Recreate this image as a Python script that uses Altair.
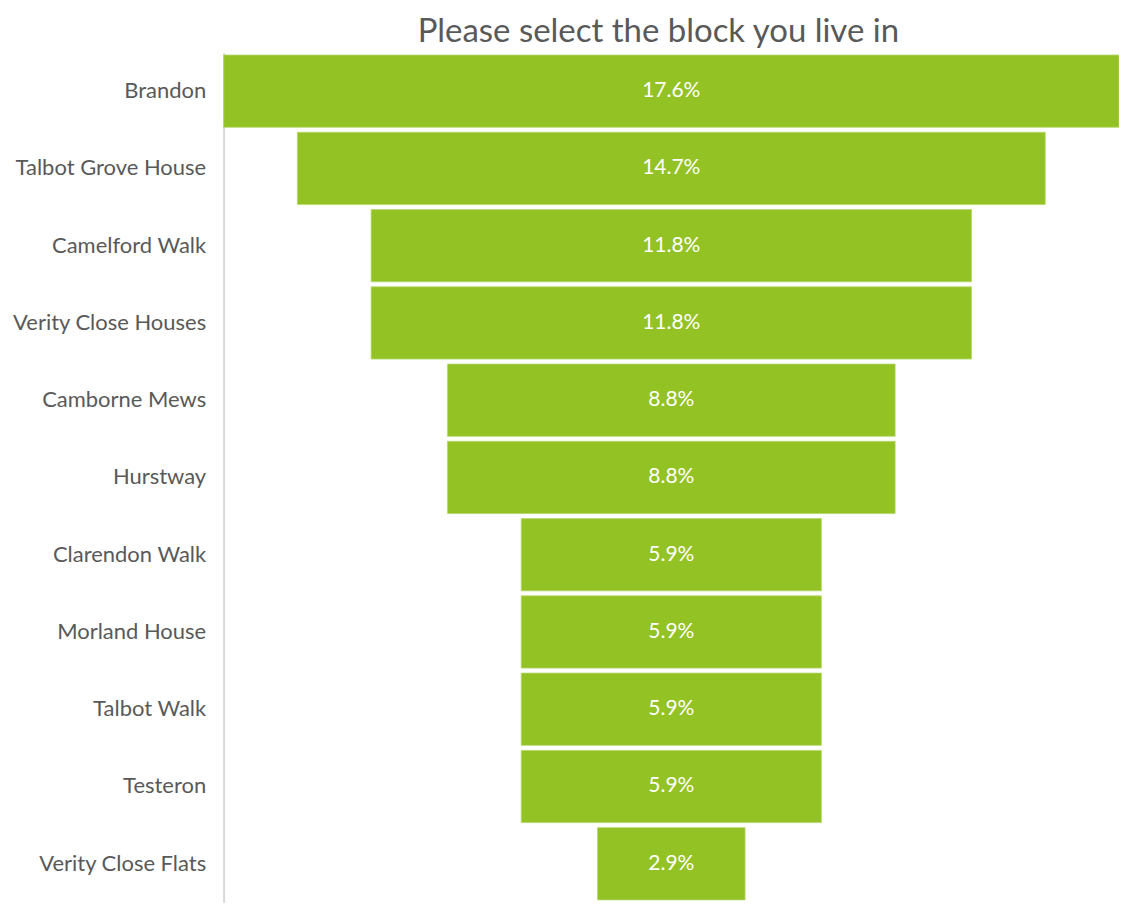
import altair as alt
import pandas as pd

blocks = ["Brandon", "Talbot Grove House", "Camelford Walk", "Verity Close Houses",
          "Camborne Mews", "Hurstway", "Clarendon Walk", "Morland House",
          "Talbot Walk", "Testeron", "Verity Close Flats"]
shares = [17.6, 14.7, 11.8, 11.8, 8.8, 8.8, 5.9, 5.9, 5.9, 5.9, 2.9]
labels = ["17.6%", "14.7%", "11.8%", "11.8%", "8.8%", "8.8%", "5.9%", "5.9%", "5.9%", "5.9%", "2.9%"]

df = pd.DataFrame({"block": blocks, "share": shares, "label": labels})

FONT = "Lato"
GREEN = "#93C225"
half = max(shares) / 2

base = alt.Chart(df).transform_calculate(
    x0="-datum.share/2", x1="datum.share/2", mid="0"
)

xscale = alt.Scale(domain=[-half, half], nice=False, zero=False)

y_enc = alt.Y("block:N", sort=blocks, title=None,
              scale=alt.Scale(paddingInner=0.065, paddingOuter=0.03),
              axis=alt.Axis(domainColor="#d9d9d9", domainWidth=2, ticks=False,
                            labelFont=FONT, labelFontSize=22, labelColor="#595959",
                            labelPadding=18, labelLimit=300))

bars = base.mark_bar(color=GREEN, stroke="#b5d76a", strokeWidth=0.8).encode(
    x=alt.X("x0:Q", scale=xscale, axis=None),
    x2="x1:Q",
    y=y_enc,
)

text = base.mark_text(color="white", font=FONT, fontSize=21, baseline="middle").encode(
    x=alt.X("mid:Q", scale=xscale, axis=None),
    y=alt.Y("block:N", sort=blocks),
    text="label:N",
)

chart = (bars + text).properties(
    width=897, height=851,
    title=alt.TitleParams("Please select the block you live in", font=FONT, fontSize=33,
                          fontWeight="normal", color="#595959", anchor="middle",
                          dx=-13, offset=4),
    padding={"left": 216, "top": 44, "right": 0, "bottom": 0},
    autosize=alt.AutoSizeParams(type="none"),
).configure_view(stroke=None)

chart.save("out.html", embed_options={"renderer": "svg", "actions": False})
